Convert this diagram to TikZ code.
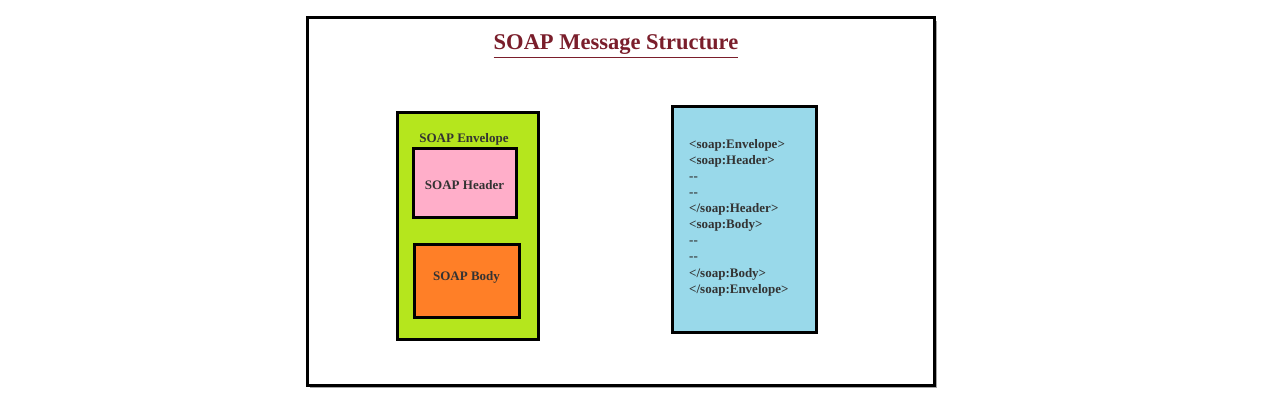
\documentclass[tikz,border=0pt]{standalone}
\usepackage{fontspec}
\setmainfont{Liberation Serif}
\definecolor{titlered}{RGB}{122,30,43}
\definecolor{envgreen}{RGB}{181,230,29}
\definecolor{hdrpink}{RGB}{255,174,201}
\definecolor{bodyorange}{RGB}{255,127,39}
\definecolor{codeblue}{RGB}{153,217,234}
\begin{document}
\begin{tikzpicture}[x=1pt,y=-1pt,
  box/.style={draw=black,line width=3pt,inner sep=0pt,outer sep=0pt},
  lbl/.style={font=\fontsize{13}{16}\selectfont\bfseries,text=black!80,inner sep=0pt}]
\useasboundingbox (0,0) rectangle (1281,403);
\fill[white] (0,0) rectangle (1281,403);
% outer frame
\fill[black!35] (310,21) rectangle (937,388);
\node[box,fill=white,minimum width=627pt,minimum height=367pt] (frame) at (620.5,201.5) {};
\node[inner sep=0pt,text=titlered,font=\fontsize{22.5}{26}\selectfont\bfseries] (title) at (616,45) {SOAP Message Structure};
\draw[titlered,line width=1.2pt] ([yshift=-2pt]title.south west) -- ([yshift=-2pt]title.south east);
% envelope
\node[box,fill=envgreen,minimum width=141pt,minimum height=226pt] (env) at (467.5,226) {};
\node[lbl] (envl) at (464,139) {SOAP Envelope};
\node[box,fill=hdrpink,minimum width=103pt,minimum height=69pt] (hdr) at (464.5,183.5) {};
\node[lbl] at ([yshift=-2pt]hdr.center) {SOAP Header};
\node[box,fill=bodyorange,minimum width=105pt,minimum height=72pt] (body) at (466.5,281) {};
\node[lbl] at ([yshift=4pt]body.center) {SOAP Body};
% code box
\node[box,fill=codeblue,minimum width=144pt,minimum height=225pt] (code) at (744,219.5) {};
\node[lbl,align=left,anchor=north west,font=\fontsize{13}{16.1}\selectfont\bfseries] (codetext) at (689,139) {%
<soap:Envelope>\\
<soap:Header>\\
-{}-\\
-{}-\\
</soap:Header>\\
<soap:Body>\\
-{}-\\
-{}-\\
</soap:Body>\\
</soap:Envelope>};
\end{tikzpicture}
\end{document}
